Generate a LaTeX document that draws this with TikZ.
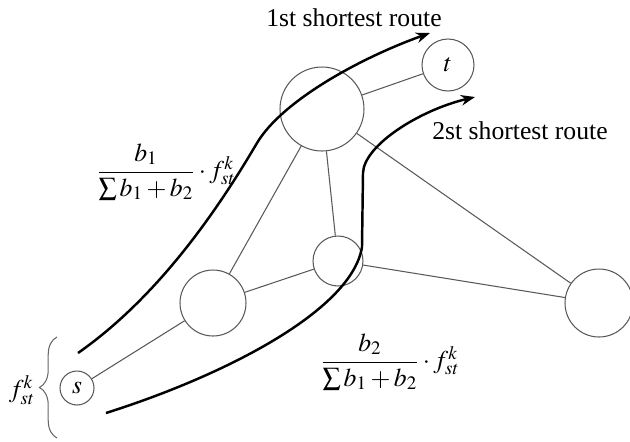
\documentclass[tikz,border=0pt]{standalone}
\usepackage{amsmath}
\usepackage{mathptmx}
\usepackage[no-math]{fontspec}
\setmainfont{Liberation Serif}
\usetikzlibrary{arrows.meta,positioning,decorations.pathreplacing}

\begin{document}
\begin{tikzpicture}[
    x=0.02cm, y=-0.02cm,
    % ── Node styles ──
    vtx/.style   = {circle, draw=black!65, line width=0.6pt, inner sep=0pt,
                    font=\fontsize{14.6}{17}\selectfont},
    edge/.style  = {draw=black!65, line width=0.6pt},
    route/.style = {line width=1.4pt, -{Stealth[length=8pt,width=6pt]}},
    lbl/.style   = {font=\fontsize{14.6}{17.5}\selectfont, inner sep=0pt},
    brc/.style   = {draw=black!60, line width=0.6pt, decorate,
                    decoration={brace, amplitude=10pt}},
]
\useasboundingbox (0,0) rectangle (630,441);

% =====================================================================
%  NETWORK: source s, sink t and the inner nodes
% =====================================================================
\node[vtx, minimum size=0.68cm] (s) at (77,388)  {$s$};
\node[vtx, minimum size=1.32cm] (a) at (213,303) {};
\node[vtx, minimum size=1.00cm] (b) at (338,261) {};
\node[vtx, minimum size=1.68cm] (c) at (322,109) {};
\node[vtx, minimum size=1.04cm] (t) at (448,65)  {$t$};
\node[vtx, minimum size=1.36cm] (d) at (599,303) {};

\draw[edge] (s) -- (a);
\draw[edge] (a) -- (b);
\draw[edge] (a) -- (c);
\draw[edge] (c) -- (b);
\draw[edge] (c) -- (t);
\draw[edge] (c) -- (d);
\draw[edge] (b) -- (d);

% =====================================================================
%  ROUTES: 1st and 2nd shortest route from s towards t
% =====================================================================
\coordinate (r1s) at (78,353);
\coordinate (r1m) at (257,143);
\coordinate (r1e) at (430,33);
\draw[route] (r1s) .. controls (158,297) and (217,211) .. (r1m)
                   .. controls (282,101) and (360,58) .. (r1e);

\coordinate (r2s) at (106,413);
\coordinate (r2m) at (362,247);
\coordinate (r2n) at (363,173);
\coordinate (r2e) at (475,97);
\draw[route] (r2s) .. controls (226,375) and (352,310) .. (r2m) -- (r2n)
                   .. controls (364,145) and (420,110) .. (r2e);

\node[lbl] (r1l) at (354,18)  {1st shortest route};
\node[lbl] (r2l) at (520,131) {2st shortest route};

% ── flow split on each route
\node[lbl] (q1) at (166,172) {$\dfrac{b_1}{\sum b_1+b_2}\cdot f_{st}^k$};
\node[lbl] (q2) at (390,362) {$\dfrac{b_2}{\sum b_1+b_2}\cdot f_{st}^k$};

% =====================================================================
%  DEMAND: brace with total flow at s
% =====================================================================
\coordinate (brb) at (57,438);
\coordinate (brt) at (57,337);
\draw[brc] (brb) -- (brt);
\node[lbl] (fk) at (22,390) {$f_{st}^k$};

\end{tikzpicture}
\end{document}
